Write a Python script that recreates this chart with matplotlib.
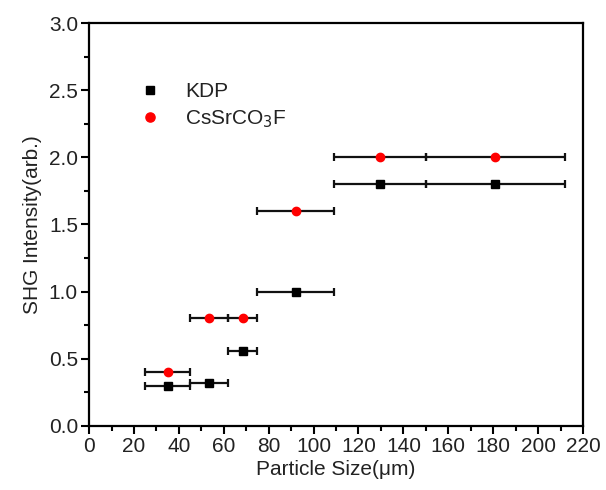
import numpy as np
import matplotlib
matplotlib.use("Agg")
from matplotlib import pyplot as plt
from matplotlib.ticker import MultipleLocator

plt.rcParams['font.family'] = ['Liberation Sans', 'DejaVu Sans']

# particle size ranges (um)
size_low = [25, 45, 62, 75, 109, 150]
size_high = [45, 62, 75, 109, 150, 212]
size_mid = [35, 53.5, 68.5, 92, 129.5, 181]

kdp = [0.30, 0.32, 0.56, 1.00, 1.80, 1.80]
cssrco3f = [0.40, 0.80, 0.80, 1.60, 2.00, 2.00]


def main():
    x = np.array(size_mid)
    xerr = [x - np.array(size_low), np.array(size_high) - x]

    fig = plt.figure(figsize=(6.06, 4.9), dpi=100)
    ax = fig.add_axes([0.147, 0.131, 0.815, 0.822])

    ax.errorbar(x, kdp, xerr=xerr, fmt='s', color='black', ms=5.3,
                ecolor='#111111', elinewidth=1.6, capsize=3, capthick=1.6,
                label='KDP', zorder=3)
    ax.errorbar(x, cssrco3f, xerr=xerr, fmt='o', color='red', ms=6,
                mec='red', ecolor='#111111', elinewidth=1.6, capsize=3,
                capthick=1.6, label=r'CsSrCO$_3$F', zorder=4)

    ax.set_xlim(0, 220)
    ax.set_ylim(0, 3.0)
    ax.xaxis.set_major_locator(MultipleLocator(20))
    ax.xaxis.set_minor_locator(MultipleLocator(10))
    ax.yaxis.set_major_locator(MultipleLocator(0.5))
    ax.yaxis.set_minor_locator(MultipleLocator(0.25))
    ax.yaxis.set_major_formatter(plt.FormatStrFormatter('%.1f'))

    ax.tick_params(which='both', direction='out', top=False, right=False,
                   width=1.5, labelsize=15, colors='black',
                   labelcolor='#222222')
    ax.tick_params(which='major', length=6, pad=2)
    ax.tick_params(which='minor', length=3.5)
    for s in ax.spines.values():
        s.set_linewidth(1.6)

    ax.set_xlabel('Particle Size(μm)', fontsize=15, labelpad=3, color='#222222')
    ax.set_ylabel('SHG Intensity(arb.)', fontsize=15, labelpad=5, color='#222222')

    handles, labels = ax.get_legend_handles_labels()
    handles = [h[0] for h in handles]
    leg = ax.legend(handles, labels, loc='upper left',
                    bbox_to_anchor=(0.064, 0.9), frameon=False, fontsize=15,
                    handletextpad=1.2, labelspacing=0.35, handlelength=1.0,
                    markerscale=1.1)
    for t in leg.get_texts():
        t.set_color('#222222')

    fig.savefig('out.png', dpi=100)


if __name__ == '__main__':
    main()
